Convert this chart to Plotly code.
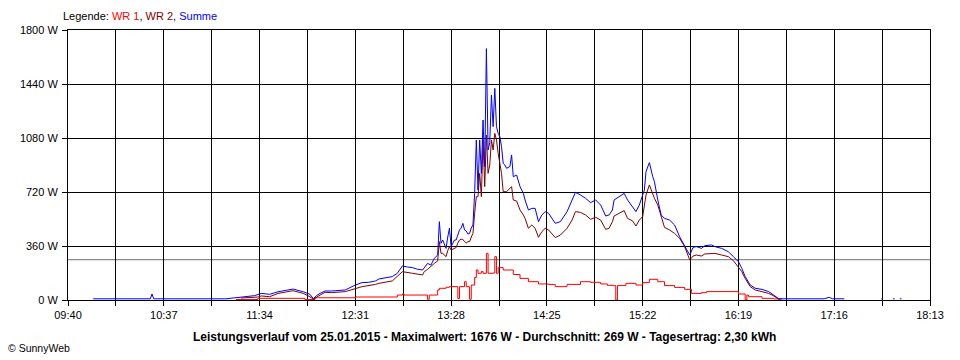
import plotly.graph_objects as go

# ---------------- data ----------------
sum_times = ["09:55", "10:13", "10:14", "10:15", "10:29", "10:30", "10:31", "11:14", "11:19", "11:23",
             "11:31", "11:34", "11:35", "11:40", "11:45", "11:50", "11:54", "12:00", "12:04", "12:06",
             "12:08", "12:10", "12:13", "12:17", "12:25", "12:31", "12:35", "12:39", "12:43", "12:45",
             "12:53", "12:56", "12:59", "13:02", "13:05", "13:08", "13:11", "13:14", "13:16", "13:18",
             "13:19", "13:20", "13:21", "13:22", "13:23", "13:24", "13:25", "13:26", "13:27", "13:28",
             "13:29", "13:30", "13:31", "13:32", "13:33", "13:34", "13:35", "13:36", "13:37", "13:38",
             "13:39", "13:40", "13:41", "13:42", "13:43", "13:44", "13:45", "13:46", "13:47", "13:48",
             "13:49", "13:50", "13:51", "13:52", "13:53", "13:54", "13:55", "13:56", "13:57", "13:58",
             "13:59", "14:00", "14:01", "14:03", "14:04", "14:05", "14:07", "14:09", "14:11", "14:12",
             "14:14", "14:16", "14:18", "14:20", "14:22", "14:24", "14:26", "14:30", "14:33", "14:37",
             "14:40", "14:42", "14:45", "14:48", "14:51", "14:54", "14:57", "15:00", "15:02", "15:04",
             "15:05", "15:08", "15:11", "15:13", "15:16", "15:18", "15:20", "15:23", "15:24", "15:26",
             "15:28", "15:29", "15:31", "15:33", "15:35", "15:38", "15:41", "15:44", "15:47", "15:50",
             "15:52", "15:54", "15:57", "15:59", "16:03", "16:05", "16:09", "16:13", "16:16", "16:19",
             "16:21", "16:23", "16:26", "16:29", "16:33", "16:37", "16:40", "16:43", "17:10", "17:13",
             "17:15", "17:22", "17:23", "17:44", "17:45", "17:46", "17:51", "17:52", "17:53", "17:55",
             "17:56", "17:57"]
sum_values = [8, 8, 13, 8, 8, 40, 8, 8, 13, 18,
              29, 40, 44, 38, 55, 65, 73, 55, 38, 9,
              30, 44, 60, 60, 67, 100, 116, 118, 127, 140,
              156, 178, 227, 220, 216, 205, 200, 244, 233, 278,
              289, 300, 522, 378, 400, 370, 344, 420, 478, 356,
              380, 400, 400, 440, 467, 480, 511, 467, 460, 440,
              444, 480, 500, 711, 1067, 733, 1067, 844, 1200, 889,
              1676, 1000, 1050, 1367, 1156, 1411, 1156, 1111, 1089, 1022,
              911, 900, 878, 890, 967, 822, 833, 756, 711, 667,
              600, 611, 611, 522, 567, 589, 578, 511, 522, 589,
              667, 718, 700, 678, 649, 667, 633, 560, 567, 600,
              667, 689, 711, 667, 622, 589, 633, 733, 856, 916,
              822, 789, 667, 567, 544, 533, 500, 422, 360, 300,
              351, 356, 344, 362, 367, 356, 344, 322, 289, 256,
              211, 156, 100, 78, 71, 56, 33, 8, 8, 18,
              8, 8, None, 8, 8, None, 8, 8, None, 8,
              8, None]

wr2_times = ["11:23", "11:33", "11:35", "11:40", "11:45", "11:50", "11:54", "12:00", "12:04", "12:06",
             "12:08", "12:10", "12:13", "12:17", "12:25", "12:31", "12:35", "12:43", "12:45", "12:53",
             "12:56", "12:59", "13:05", "13:11", "13:12", "13:14", "13:18", "13:19", "13:20", "13:21",
             "13:22", "13:23", "13:24", "13:25", "13:26", "13:27", "13:28", "13:29", "13:30", "13:31",
             "13:32", "13:33", "13:34", "13:35", "13:36", "13:37", "13:38", "13:39", "13:40", "13:41",
             "13:42", "13:43", "13:44", "13:45", "13:46", "13:47", "13:48", "13:49", "13:50", "13:51",
             "13:52", "13:53", "13:54", "13:55", "13:56", "13:57", "13:58", "13:59", "14:01", "14:04",
             "14:05", "14:07", "14:09", "14:11", "14:12", "14:14", "14:16", "14:18", "14:20", "14:22",
             "14:24", "14:26", "14:30", "14:33", "14:37", "14:40", "14:42", "14:45", "14:48", "14:51",
             "14:54", "14:57", "15:00", "15:02", "15:04", "15:05", "15:08", "15:11", "15:13", "15:16",
             "15:18", "15:20", "15:22", "15:24", "15:26", "15:28", "15:29", "15:31", "15:33", "15:35",
             "15:38", "15:41", "15:44", "15:47", "15:50", "15:52", "15:54", "15:57", "15:59", "16:05",
             "16:09", "16:13", "16:16", "16:19", "16:21", "16:23", "16:26", "16:29", "16:33", "16:37",
             "16:40", "16:43", "16:44"]
wr2_values = [13, 20, 27, 22, 44, 55, 62, 44, 22, 5,
              20, 33, 51, 49, 56, 78, 89, 104, 111, 127,
              156, 189, 178, 167, 189, 204, 244, 250, 260, 389,
              311, 311, 300, 289, 330, 356, 333, 340, 344, 350,
              380, 400, 405, 404, 389, 380, 389, 389, 420, 444,
              578, 689, 689, 844, 689, 1067, 756, 1100, 844, 900,
              1067, 1000, 1111, 1067, 978, 911, 844, 722, 722, 756,
              667, 660, 600, 567, 544, 478, 500, 478, 418, 456,
              478, 467, 416, 433, 478, 533, 589, 584, 567, 538,
              551, 533, 471, 478, 522, 560, 578, 596, 544, 527,
              493, 533, 556, 700, 767, 700, 678, 633, 556, 484,
              467, 444, 411, 356, 267, 293, 300, 293, 307, 311,
              300, 289, 262, 222, 189, 144, 89, 67, 56, 44,
              27, 5, 5]

wr1_times = ["11:20", "11:33", "12:01", "12:07", "12:31", "12:56", "12:59", "13:00", "13:14", "13:15",
             "13:20", "13:21", "13:25", "13:27", "13:32", "13:33", "13:36", "13:37", "13:39", "13:40",
             "13:42", "13:43", "13:44", "13:46", "13:47", "13:49", "13:50", "13:53", "13:54", "13:55",
             "13:56", "13:59", "14:05", "14:09", "14:14", "14:20", "14:26", "14:30", "14:37", "14:45",
             "14:51", "14:57", "15:01", "15:05", "15:06", "15:07", "15:12", "15:18", "15:22", "15:26",
             "15:31", "15:35", "15:41", "15:47", "15:51", "15:57", "16:00", "16:19", "16:23", "16:24",
             "16:25", "16:33", "16:40", "16:45"]
wr1_values = [3, 11, 3, 15, 20, 33, 40, 33, 5, 33,
              67, 78, 85, 89, 10, 89, 122, 89, 5, 100,
              150, 200, 178, 190, 178, 311, 178, 180, 289, 178,
              216, 200, 170, 144, 122, 107, 104, 89, 104, 122,
              118, 107, 98, 96, 0, 96, 111, 100, 116, 138,
              122, 96, 84, 71, 44, 49, 56, 40, 0, 33,
              22, 11, 7, 7]

average_w = 269
y_ticks = [0, 360, 720, 1080, 1440, 1800]
x_start, x_end = "09:40", "18:13"
x_step_min = 28.5

legend_names = ["WR 1", "WR 2", "Summe"]
colors = ["#FF0000", "#800000", "#0000FF"]
line_shapes = ["hv", "linear", "linear"]
title_text = ("Leistungsverlauf vom 25.01.2015 - Maximalwert: 1676 W - "
              "Durchschnitt: 269 W - Tagesertrag: 2,30 kWh")


def to_min(s):
    h, m = s.split(":")
    return int(h) * 60 + int(m)


def fmt(m):
    m = int(round(m))
    return f"{m // 60:02d}:{m % 60:02d}"


assert len(sum_times) == len(sum_values)
assert len(wr2_times) == len(wr2_values)
assert len(wr1_times) == len(wr1_values)

x0, x1 = to_min(x_start), to_min(x_end)
n_steps = int(round((x1 - x0) / x_step_min))
tickvals = [x0 + k * x_step_min for k in range(n_steps + 1)]
ticktext = [fmt(v) if k % 2 == 0 else "" for k, v in enumerate(tickvals)]

FONT = "Liberation Sans, Arial, sans-serif"

fig = go.Figure()
series = [(wr1_times, wr1_values), (wr2_times, wr2_values), (sum_times, sum_values)]
for (ts, vs), name, col, shp in zip(series, legend_names, colors, line_shapes):
    fig.add_trace(go.Scatter(
        x=[to_min(t) for t in ts], y=vs, mode="lines", name=name,
        line=dict(color=col, width=1, shape=shp), connectgaps=False,
        hoverinfo="skip"))

fig.add_shape(type="line", xref="paper", x0=0, x1=1, yref="y",
              y0=average_w, y1=average_w, line=dict(color="#8C8C8C", width=1.2),
              layer="below")

# the page body adds an 8px offset, so the figure is 8px smaller and margins shifted
fig.update_layout(
    width=952, height=352,
    margin=dict(l=52, r=30, t=22, b=60),
    paper_bgcolor="white", plot_bgcolor="white",
    showlegend=False,
    font=dict(family=FONT, size=11, color="black"),
)
fig.update_xaxes(range=[x0, x1], tickmode="array", tickvals=tickvals, ticktext=ticktext,
                 showgrid=True, gridcolor="black", gridwidth=1,
                 showline=True, linecolor="black", linewidth=1, mirror=True,
                 ticks="outside", ticklen=5, tickcolor="black", tickwidth=1,
                 tickfont=dict(family=FONT, size=11, color="black"), zeroline=False)
fig.update_yaxes(range=[0, 1800], tickmode="array", tickvals=y_ticks,
                 ticktext=[f"{v} W" for v in y_ticks],
                 showgrid=True, gridcolor="black", gridwidth=1,
                 showline=True, linecolor="black", linewidth=1, mirror=True,
                 ticks="outside", ticklen=5, tickcolor="black", tickwidth=1,
                 ticklabelstandoff=2,
                 tickfont=dict(family=FONT, size=11, color="black"), zeroline=False)

legend_html = ("Legende: " + ", ".join(
    f"<span style='color:{c}'>{n}</span>" for n, c in zip(legend_names, colors)))
fig.add_annotation(text=legend_html, xref="paper", yref="paper", x=0, y=1.052,
                   xanchor="left", yanchor="middle", showarrow=False, xshift=-7,
                   font=dict(family=FONT, size=11, color="black"))
fig.add_annotation(text=f"<b>{title_text}</b>", xref="paper", yref="paper",
                   x=0.4828, y=-0.137, xanchor="center", yanchor="middle", showarrow=False,
                   font=dict(family=FONT, size=12, color="black"))
fig.add_annotation(text="© SunnyWeb", xref="paper", yref="paper",
                   x=-0.0632, y=-0.178, xanchor="left", yanchor="middle", showarrow=False,
                   xshift=-8, font=dict(family=FONT, size=10.5, color="black"))

fig.write_html("out.html")
